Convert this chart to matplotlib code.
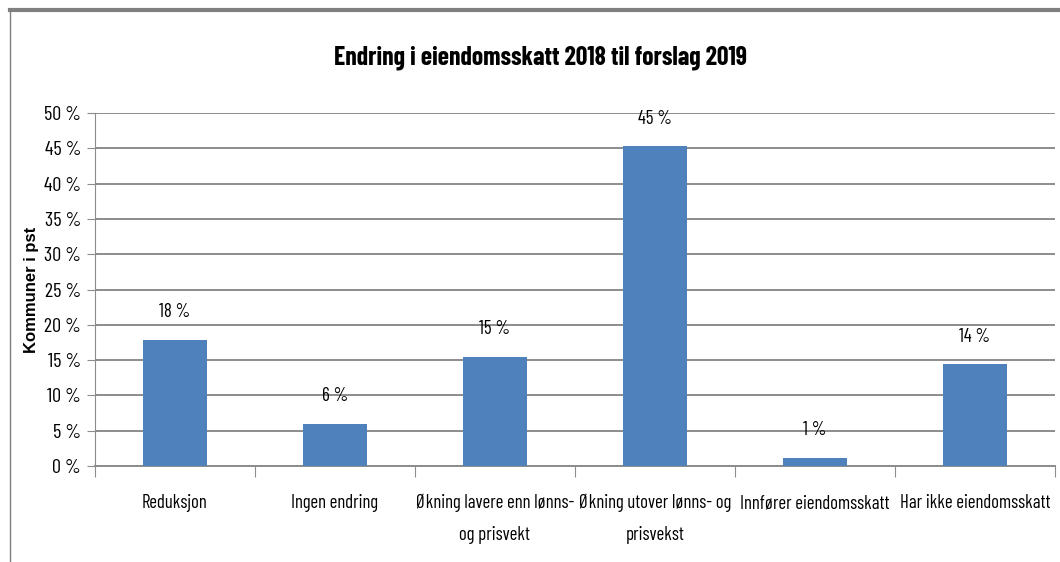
import matplotlib.pyplot as plt
from matplotlib.lines import Line2D
from matplotlib.ticker import MultipleLocator, FuncFormatter

# Data
categories = ['Reduksjon', 'Ingen endring', 'Økning lavere enn lønns-\nog prisvekt',
              'Økning utover lønns- og\nprisvekst', 'Innfører eiendomsskatt', 'Har ikke eiendomsskatt']
values = [17.9, 6.0, 15.5, 45.3, 1.2, 14.4]
labels = ['18 %', '6 %', '15 %', '45 %', '1 %', '14 %']

narrow = ['Barlow Condensed', 'DejaVu Sans']

fig = plt.figure(figsize=(10.6, 5.62), dpi=100)
ax = fig.add_axes([0.0896, 0.1708, 0.9057, 0.628])

x = range(len(categories))
ax.bar(x, values, width=0.4, color='#4f81bd', zorder=3)
for i, v in enumerate(values):
	ax.text(i, v + 2.6, labels[i], ha='center', va='bottom', fontsize=13.5, family=narrow)

ax.set_ylim(0, 50)
ax.set_xlim(-0.5, len(categories) - 0.5)
ax.yaxis.set_major_locator(MultipleLocator(5))
ax.yaxis.set_major_formatter(FuncFormatter(lambda v, p: '%d %%' % v))
ax.grid(axis='y', color='#8c8c8c', linewidth=1.4, zorder=0)

ax.set_xticks([i - 0.5 for i in range(len(categories) + 1)])
ax.set_xticklabels([])
ax.set_xticks(list(x), minor=True)
ax.set_xticklabels(categories, minor=True, fontsize=13.5, family=narrow, linespacing=2.0)
ax.tick_params(axis='x', which='minor', length=0, pad=20)
ax.tick_params(axis='x', which='major', length=8, color='#8c8c8c')
ax.tick_params(axis='y', length=6, color='#8c8c8c', labelsize=14.5, pad=4)
for t in ax.get_yticklabels():
	t.set_family(narrow)

for s in ['top', 'right']:
	ax.spines[s].set_visible(False)
ax.spines['left'].set_color('#8c8c8c')
ax.spines['bottom'].set_color('#8c8c8c')
ax.spines['bottom'].set_linewidth(1.4)

ax.set_ylabel('Kommuner i pst', fontsize=12, fontweight='bold', family='Liberation Sans', labelpad=4)
fig.text(0.51, 0.898, 'Endring i eiendomsskatt 2018 til forslag 2019', ha='center', va='center',
	fontsize=18.5, fontweight='bold', family=narrow)

# chart frame
fig.add_artist(Line2D([0.0094, 1.0], [0.982, 0.982], color='#7f7f7f', linewidth=3, transform=fig.transFigure))
fig.add_artist(Line2D([0.0094, 0.0094], [0.0, 0.982], color='#7f7f7f', linewidth=1, transform=fig.transFigure))

fig.savefig('out.png', dpi=100)
